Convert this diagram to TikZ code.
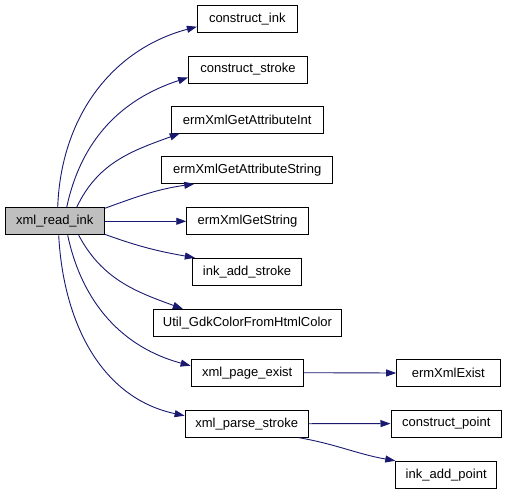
\documentclass[tikz,border=0pt]{standalone}
\usepackage{fontspec}
\setmainfont{Liberation Sans}
\usetikzlibrary{arrows.meta}
\definecolor{edgeblue}{HTML}{191970}
\definecolor{rootgray}{HTML}{BFBFBF}
\begin{document}
\begin{tikzpicture}[x=1pt,y=-1pt,
  fn/.style={draw=black,line width=0.9pt,fill=white,minimum height=27pt,inner sep=0pt,
    font=\fontsize{13}{15}\selectfont},
  call/.style={draw=edgeblue,line width=0.9pt,-{Triangle[length=10pt,width=7pt]}},
]
\useasboundingbox (0,0) rectangle (507,493);
\node[fn,fill=rootgray,minimum width=99pt] (read) at (54.7,221.3) {xml\_read\_ink};
\node[fn,minimum width=100pt] (cink) at (247.3,18.7) {construct\_ink};
\node[fn,minimum width=119pt] (cstroke) at (248,69.5) {construct\_stroke};
\node[fn,minimum width=152pt] (aint) at (247.2,119.5) {ermXmlGetAttributeInt};
\node[fn,minimum width=171pt] (astr) at (247.2,170) {ermXmlGetAttributeString};
\node[fn,minimum width=121.6pt] (gstr) at (247.5,221.3) {ermXmlGetString};
\node[fn,minimum width=109.4pt] (iastroke) at (247,271.7) {ink\_add\_stroke};
\node[fn,minimum width=188.4pt] (util) at (247.5,322.8) {Util\_GdkColorFromHtmlColor};
\node[fn,minimum width=112.3pt] (pexist) at (247.2,372.7) {xml\_page\_exist};
\node[fn,minimum width=123.3pt] (pstroke) at (246.7,423.7) {xml\_parse\_stroke};
\node[fn,minimum width=103.3pt] (exist) at (448.3,373) {ermXmlExist};
\node[fn,minimum width=110.7pt] (cpoint) at (446.3,423.6) {construct\_point};
\node[fn,minimum width=101pt] (iapoint) at (446.2,474.7) {ink\_add\_point};

\draw[call] ([xshift=3pt]read.north) to[out=88,in=195] ([yshift=-8pt]cink.west);
\draw[call] ([xshift=12pt]read.north) to[out=78,in=198] ([yshift=-8pt]cstroke.west);
\draw[call] ([xshift=22pt]read.north) to[out=65,in=200] ([xshift=9pt]aint.south west);
\draw[call] ([yshift=-1pt]read.north east) to[out=20,in=188] ([xshift=33pt]astr.south west);
\draw[call] (read.east) -- (gstr.west);
\draw[call] ([yshift=1pt]read.south east) to[out=-20,in=170] ([xshift=3pt]iastroke.north west);
\draw[call] ([xshift=24pt]read.south) to[out=-62,in=160] ([xshift=30pt]util.north west);
\draw[call] ([xshift=13pt]read.south) to[out=-78,in=165] ([yshift=7pt]pexist.west);
\draw[call] ([xshift=4pt]read.south) to[out=-87,in=168] ([yshift=8pt]pstroke.west);
\draw[call] (pexist.east) -- (exist.west);
\draw[call] (pstroke.east) -- (cpoint.west);
\draw[call] ([xshift=-10pt]pstroke.south east) to[out=-10,in=170] (iapoint.north west);
\end{tikzpicture}
\end{document}
